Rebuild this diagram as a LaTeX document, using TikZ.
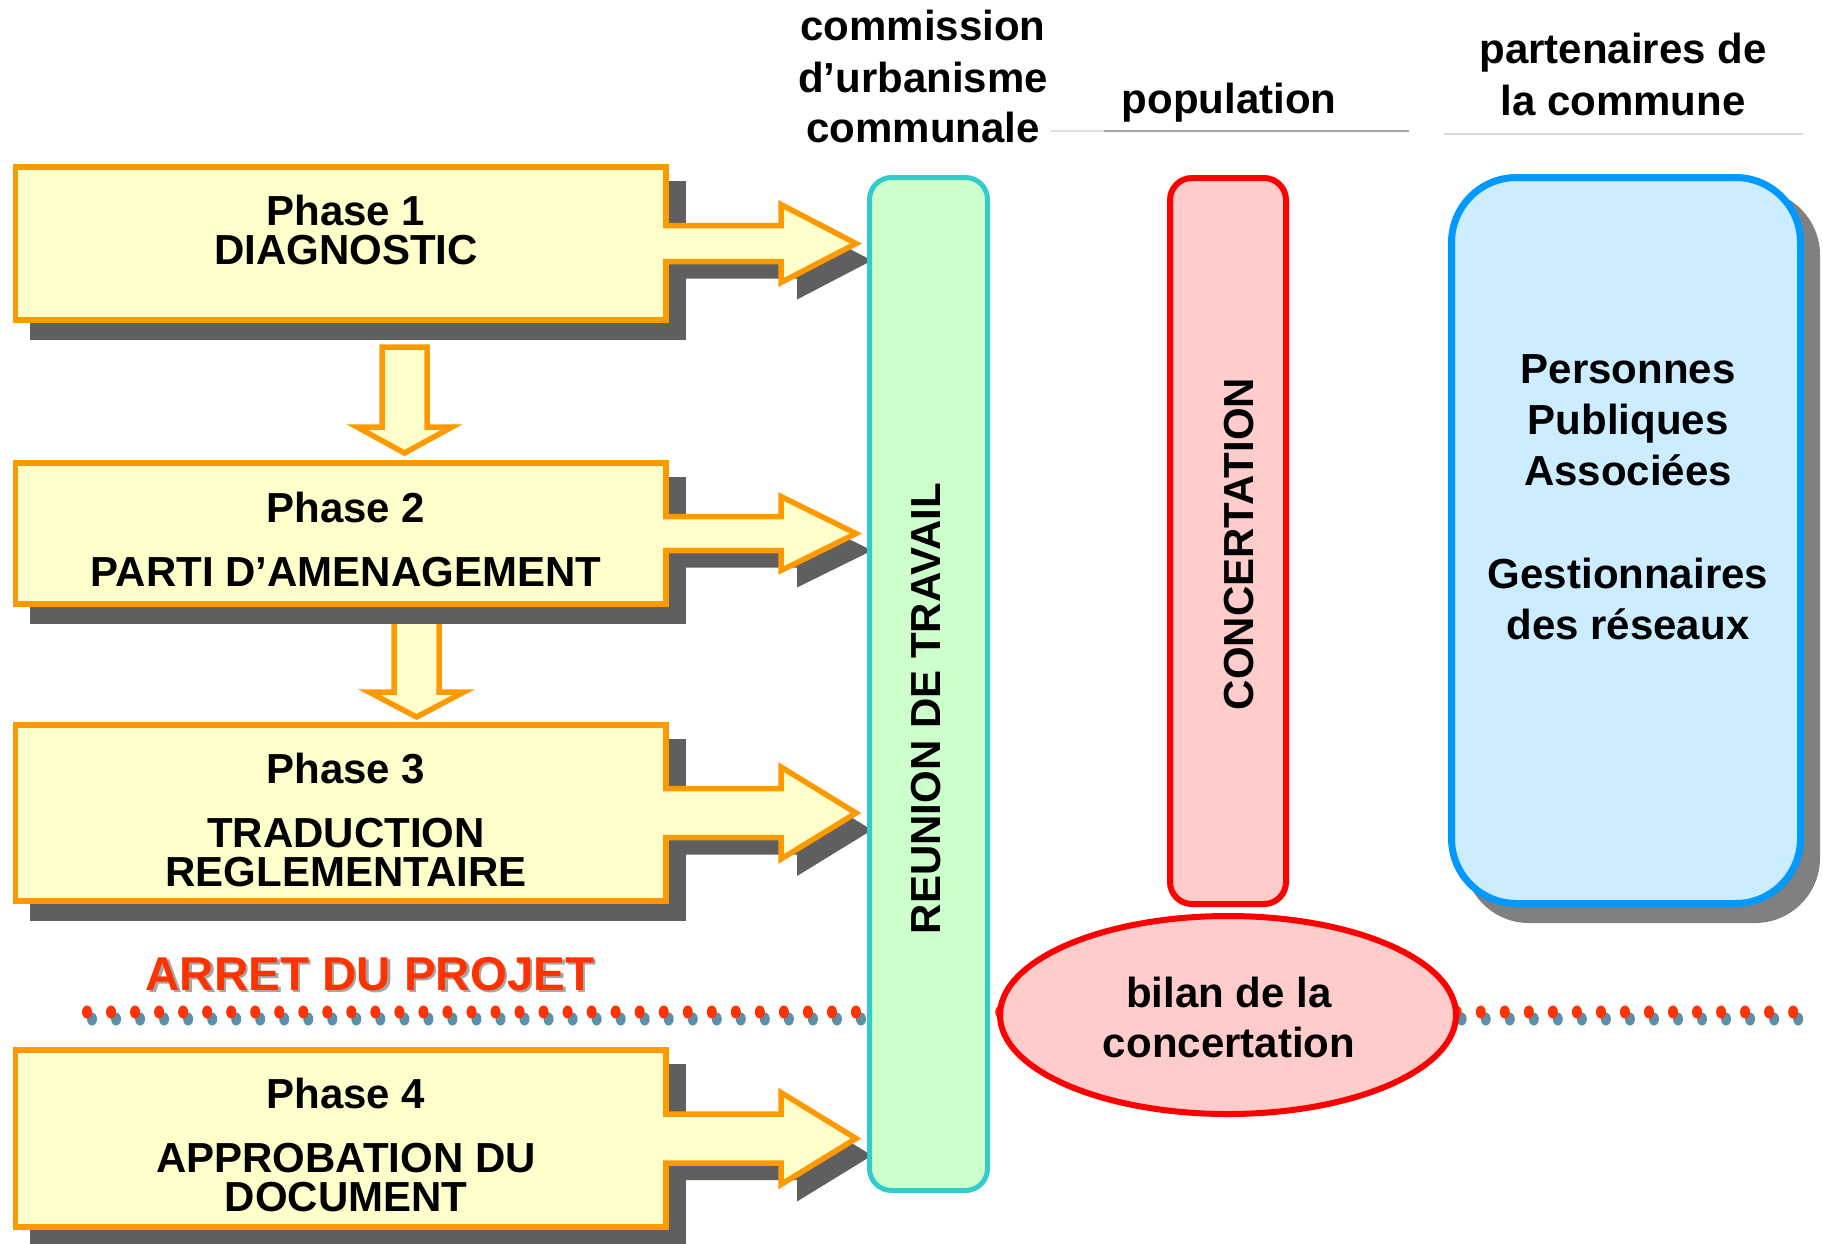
\documentclass[tikz,border=0pt]{standalone}
\usepackage{fontspec}
\setmainfont{Liberation Sans}
\usetikzlibrary{shapes.geometric}
\definecolor{orng}{HTML}{FF9900}
\definecolor{yel}{HTML}{FFFFCC}
\definecolor{shd}{HTML}{5F5F5F}
\definecolor{shdb}{HTML}{808080}
\definecolor{grnf}{HTML}{CCFFCC}
\definecolor{cyanb}{HTML}{33CCCC}
\definecolor{pinkf}{HTML}{FFCCCC}
\definecolor{redb}{HTML}{FF0000}
\definecolor{bluef}{HTML}{CCECFF}
\definecolor{blueb}{HTML}{0099FF}
\definecolor{dotred}{HTML}{FF3300}
\definecolor{dotblue}{HTML}{5B8FAA}
\definecolor{arret}{HTML}{FF3300}
\begin{document}
\begin{tikzpicture}[x=1pt,y=-1pt,
  txt/.style={font=\fontsize{42}{50}\selectfont\bfseries, inner sep=0pt, anchor=base},
  phasebox/.style={draw=orng, line width=5.5pt, fill=yel, minimum width=650.5pt, inner sep=0pt},
  arrowline/.style={draw=orng, line width=5.5pt, line join=miter},
  bar/.style={rounded corners=22pt, inner sep=0pt},
  hline/.style={line width=1.5pt}]
\useasboundingbox (0,0) rectangle (1823,1243);

% headers
\node[txt] (h1a) at (923,40) {commission};
\node[txt] (h1b) at (923,92) {d’urbanisme};
\node[txt] (h1c) at (923,142) {communale};
\node[txt] (h2) at (1229,113) {population};
\node[txt] (h3a) at (1623,63) {partenaires de};
\node[txt] (h3b) at (1623,115) {la commune};
\coordinate (l1a) at (1051,131);
\coordinate (l1b) at (1104,131);
\coordinate (l1c) at (1409,131);
\coordinate (l2a) at (1444,134);
\coordinate (l2b) at (1803,134);
\draw[hline, color=black!12] (l1a) -- (l1b);
\draw[hline, color=black!35] (l1b) -- (l1c);
\draw[hline, color=black!14] (l2a) -- (l2b);

% dotted line
\foreach \i in {0,...,71}{
  \fill[dotblue] (87+24.03*\i+5,1019) ellipse (5 and 6.5);
  \fill[dotred] (87+24.03*\i,1012) ellipse (5 and 6.5);
}

% down arrows
\draw[arrowline, fill=yel] (382,347) -- (427,347) -- (427,427) -- (452,427) -- (404.5,453) -- (357,427) -- (382,427) -- cycle;
\draw[arrowline, fill=yel] (394,606) -- (439,606) -- (439,692) -- (464,692) -- (416.5,717) -- (369,692) -- (394,692) -- cycle;

% phases
\foreach \n/\cy/\hh/\s/\hd in {1/243.5/153/18/39, 2/533.5/141/17/37, 3/813/176/24.5/46, 4/1138.5/177/24.5/46}{
  \fill[shd] (12.75+17,\cy-\hh/2-2.75+17) rectangle (668.75+17,\cy+\hh/2+2.75+17);
  \fill[shd, shift={(16,17)}] (660,\cy-\s) -- (781,\cy-\s) -- (781,\cy-\hd) -- (856,\cy) -- (781,\cy+\hd) -- (781,\cy+\s) -- (660,\cy+\s) -- cycle;
  \node[phasebox, minimum height=\hh pt] (p\n) at (340.75,\cy) {};
  \fill[yel] (660,\cy-\s) -- (781,\cy-\s) -- (781,\cy-\hd) -- (856,\cy) -- (781,\cy+\hd) -- (781,\cy+\s) -- (660,\cy+\s) -- cycle;
  \draw[arrowline] (663,\cy-\s) -- (781,\cy-\s) -- (781,\cy-\hd) -- (856,\cy) -- (781,\cy+\hd) -- (781,\cy+\s) -- (663,\cy+\s);
}
\node[txt] (t1a) at (346,225) {Phase 1};
\node[txt] (t1b) at (346,264) {DIAGNOSTIC};
\node[txt] (t2a) at (346,522) {Phase 2};
\node[txt] (t2b) at (346,586) {PARTI D’AMENAGEMENT};
\node[txt] (t3a) at (346,783) {Phase 3};
\node[txt] (t3b) at (346,847) {TRADUCTION};
\node[txt] (t3c) at (346,886) {REGLEMENTAIRE};
\node[txt] (t4a) at (346,1108) {Phase 4};
\node[txt] (t4b) at (346,1172) {APPROBATION DU};
\node[txt] (t4c) at (346,1211) {DOCUMENT};

% bars
\node[bar, draw=cyanb, line width=5pt, fill=grnf, minimum width=118pt, minimum height=1013pt] (reu) at (928.5,684) {};
\node[bar, draw=redb, line width=6pt, fill=pinkf, minimum width=116pt, minimum height=726pt] (con) at (1228,541) {};
\node[ellipse, draw=redb, line width=6pt, fill=pinkf, minimum width=456pt, minimum height=198pt, inner sep=0pt] (bil) at (1228,1015) {};
\fill[shdb, rounded corners=65pt] (1464,190) rectangle (1820,923);
\node[draw=blueb, line width=7pt, fill=bluef, rounded corners=65pt, minimum width=349pt, minimum height=726pt, inner sep=0pt] (pp) at (1626,540.5) {};

\node[txt, rotate=90] (treu) at (940,708.5) {REUNION DE TRAVAIL};
\node[txt, rotate=90] (tcon) at (1253,544) {CONCERTATION};
\node[txt] (tb1) at (1229,1007) {bilan de la};
\node[txt] (tb2) at (1229,1057) {concertation};
\node[txt] (tp1) at (1628,383) {Personnes};
\node[txt] (tp2) at (1628,434) {Publiques};
\node[txt] (tp3) at (1628,485) {Associées};
\node[txt] (tp4) at (1628,588) {Gestionnaires};
\node[txt] (tp5) at (1628,639) {des réseaux};

% arret
\node[txt, font=\fontsize{47.5}{50}\selectfont\bfseries, text=black!35] (arrs) at (372.5,992.5) {ARRET DU PROJET};
\node[txt, font=\fontsize{47.5}{50}\selectfont\bfseries, text=arret] (arr) at (370,990) {ARRET DU PROJET};
\end{tikzpicture}
\end{document}
